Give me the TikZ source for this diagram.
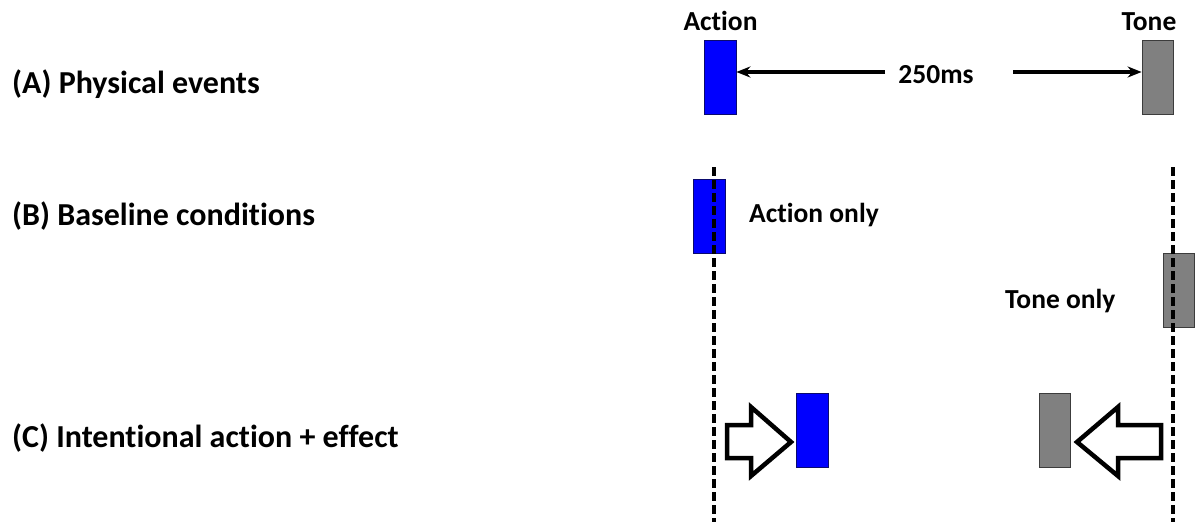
\documentclass[tikz,border=0pt]{standalone}
\usepackage{fontspec}
\setmainfont{Carlito}[Ligatures=NoCommon]
\usetikzlibrary{arrows.meta}
\definecolor{evblue}{RGB}{0,0,255}
\definecolor{evblueb}{RGB}{10,10,110}
\definecolor{evgray}{RGB}{128,128,128}
\definecolor{evgrayb}{RGB}{60,60,60}
\begin{document}
\begin{tikzpicture}[x=1pt,y=-1pt,
  rowlabel/.style={anchor=base west,inner sep=0pt,font=\fontsize{32}{36}\selectfont\bfseries},
  small/.style={inner sep=0pt,font=\fontsize{27.5}{32}\selectfont\bfseries},
  actbox/.style={draw=evblueb,fill=evblue,line width=0.8pt,minimum width=32pt,minimum height=74pt,inner sep=0pt},
  tonebox/.style={draw=evgrayb,fill=evgray,line width=0.8pt,minimum width=31pt,minimum height=74pt,inner sep=0pt},
  timeline/.style={line width=3.2pt,dash pattern=on 8.5pt off 4.5pt},
  span/.style={line width=3.4pt,-{Stealth[length=14pt,width=11pt]}},
  blockarrow/.style={draw=black,fill=white,line width=4.5pt,line join=miter}]
\useasboundingbox (0,0) rectangle (1195,522);
% row labels
\node[rowlabel] (la) at (12,93) {(A) Physical events};
\node[rowlabel] (lb) at (12,225) {(B) Baseline conditions};
\node[rowlabel] (lc) at (12,447) {(C) Intentional action + effect};
% dashed time lines
\coordinate (d1t) at (714,167);
\coordinate (d1b) at (714,522);
\coordinate (d2t) at (1173,167);
\coordinate (d2b) at (1173,522);
% row A
\node[actbox] (ba) at (720,77.5) {};
\node[tonebox] (ga) at (1157.5,77.5) {};
\node[small,anchor=base] (tact) at (720.5,30.7) {Action};
\node[small,anchor=base] (ttone) at (1149,30.7) {Tone};
\node[small,anchor=base] (ms) at (936,83.3) {250ms};
\coordinate (al) at (885,72);
\coordinate (ar) at (1013,72);
\draw[span] (al) -- (ba.east |- al);
\draw[span] (ar) -- (ga.west |- ar);
% row B
\node[actbox] (bb) at (709.5,216) {};
\node[small,anchor=base west] (aonly) at (749,222) {Action only};
\node[tonebox] (gb) at (1179,290.5) {};
\node[small,anchor=base west] (tonly) at (1005,308) {Tone only};
\draw[timeline] (d1t) -- (d1b);
\draw[timeline] (d2t) -- (d2b);
% row C
\node[actbox] (bc) at (812.5,430) {};
\node[tonebox] (gc) at (1055,430) {};
\draw[blockarrow] (727,425) -- (751,425) -- (751,407) -- (791,442) -- (751,476) -- (751,458) -- (727,458) -- cycle;
\draw[blockarrow] (1161,425) -- (1118,425) -- (1118,407) -- (1077,442) -- (1118,476) -- (1118,458) -- (1161,458) -- cycle;
\end{tikzpicture}
\end{document}
